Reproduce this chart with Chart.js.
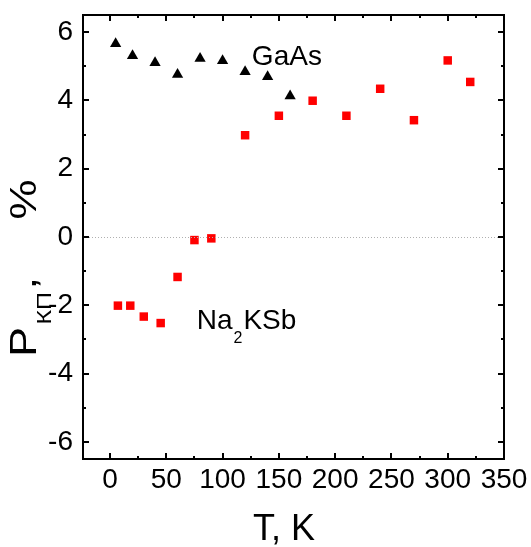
<!DOCTYPE html>
<html>
<head>
<meta charset="UTF-8" />
<title>P vs T</title>
<style>
  html, body { margin: 0; padding: 0; background: #fff; }
  #wrap { position: relative; width: 531px; height: 547px; }
</style>
</head>
<body>
<div id="wrap"><canvas id="polChart" width="531" height="547"></canvas></div>
<script src="https://cdn.jsdelivr.net/npm/chart.js"></script>
<script>
// temperature, K
const tempGaAs = [5, 20, 40, 60, 80, 100, 120, 140, 160];
// polarization, %
const polGaAs = [5.66, 5.31, 5.10, 4.76, 5.23, 5.16, 4.84, 4.69, 4.13];

const tempNaKSb = [7, 18, 30, 45, 60, 75, 90, 120, 150, 180, 210, 240, 270, 300, 320];
const polNaKSb = [-2.01, -2.01, -2.33, -2.52, -1.17, -0.09, -0.04, 2.98, 3.55, 3.99, 3.55, 4.34, 3.42, 5.17, 4.54];

const xMajor = [0, 50, 100, 150, 200, 250, 300, 350];
const xMinor = [25, 75, 125, 175, 225, 275, 325];
const yMajor = [-6, -4, -2, 0, 2, 4, 6];
const yMinor = [-5, -3, -1, 1, 3, 5];

const FONT = '"Liberation Sans", Arial, sans-serif';

function pts(xs, ys) {
  return xs.map((x, i) => ({ x: x, y: ys[i] }));
}

// frame, inward ticks, zero line and the text labels
const framePlugin = {
  id: 'frame',
  afterDatasetsDraw(chart) {
    const { ctx, chartArea: a, scales: { x, y } } = chart;
    ctx.save();

    // dotted zero line
    const y0 = y.getPixelForValue(0);
    ctx.strokeStyle = '#b0b0b0';
    ctx.lineWidth = 1;
    ctx.setLineDash([1, 2]);
    ctx.beginPath();
    ctx.moveTo(a.left, y0 + 0.5);
    ctx.lineTo(a.right, y0 + 0.5);
    ctx.stroke();
    ctx.setLineDash([]);

    ctx.strokeStyle = '#000';
    ctx.lineWidth = 2;
    ctx.strokeRect(a.left, a.top, a.right - a.left, a.bottom - a.top);

    function xTick(v, len) {
      const px = Math.round(x.getPixelForValue(v));
      ctx.moveTo(px, a.bottom); ctx.lineTo(px, a.bottom - len);
      ctx.moveTo(px, a.top); ctx.lineTo(px, a.top + len);
    }
    function yTick(v, len) {
      const py = Math.round(y.getPixelForValue(v));
      ctx.moveTo(a.left, py); ctx.lineTo(a.left + len, py);
      ctx.moveTo(a.right, py); ctx.lineTo(a.right - len, py);
    }
    ctx.beginPath();
    xMajor.forEach(v => xTick(v, 6));
    xMinor.forEach(v => xTick(v, 3));
    yMajor.forEach(v => yTick(v, 6));
    yMinor.forEach(v => yTick(v, 3));
    ctx.stroke();

    ctx.fillStyle = '#000';
    ctx.textBaseline = 'alphabetic';
    ctx.textAlign = 'left';

    // series labels
    ctx.font = '28px ' + FONT;
    ctx.fillText('GaAs', x.getPixelForValue(126), y.getPixelForValue(5.05));

    let lx = x.getPixelForValue(77);
    const ly = y.getPixelForValue(-2.7);
    ctx.fillText('Na', lx, ly);
    lx += ctx.measureText('Na').width + 1;
    ctx.font = '16px ' + FONT;
    ctx.fillText('2', lx, ly + 14);
    lx += ctx.measureText('2').width + 1;
    ctx.font = '28px ' + FONT;
    ctx.fillText('KSb', lx, ly);

    // x axis title
    ctx.font = '36px ' + FONT;
    ctx.textAlign = 'center';
    ctx.fillText('T, K', 284, 540);

    // y axis title, written bottom to top, slightly stretched along its length
    ctx.translate(36, 357);
    ctx.rotate(-Math.PI / 2);
    ctx.scale(1.25, 1);
    ctx.textAlign = 'left';
    let tx = 0;
    ctx.font = '36px ' + FONT;
    ctx.fillText('P', tx, 0);
    tx += ctx.measureText('P').width + 2;
    ctx.font = '20px ' + FONT;
    ctx.fillText('КП', tx, 15);
    tx += ctx.measureText('КП').width + 2;
    ctx.font = '36px ' + FONT;
    ctx.fillText(',', tx, 0);
    ctx.fillText('%', 110, 0);

    ctx.restore();
  }
};

new Chart(document.getElementById('polChart'), {
  type: 'scatter',
  data: {
    datasets: [
      {
        label: 'GaAs',
        data: pts(tempGaAs, polGaAs),
        pointStyle: 'triangle',
        pointRadius: 6.5,
        pointBorderWidth: 0,
        backgroundColor: '#000',
        borderColor: '#000'
      },
      {
        label: 'Na2KSb',
        data: pts(tempNaKSb, polNaKSb),
        pointStyle: 'rect',
        pointRadius: 6,
        pointBorderWidth: 0,
        backgroundColor: '#ff0000',
        borderColor: '#ff0000'
      }
    ]
  },
  options: {
    responsive: false,
    animation: false,
    layout: { padding: { top: 15, right: 27, left: 0, bottom: 0 } },
    plugins: {
      legend: { display: false },
      tooltip: { enabled: false }
    },
    scales: {
      x: {
        type: 'linear',
        min: -24,
        max: 350,
        afterBuildTicks(scale) {
          scale.ticks = xMajor.map(v => ({ value: v }));
        },
        afterFit(scale) {
          scale.height = 88;
          scale.paddingLeft = 0;
          scale.paddingRight = 0;
        },
        grid: { display: false, drawTicks: false },
        border: { display: false },
        ticks: {
          color: '#000',
          padding: 4,
          maxRotation: 0,
          font: { family: FONT, size: 28 }
        }
      },
      y: {
        type: 'linear',
        min: -6.5,
        max: 6.5,
        afterBuildTicks(scale) {
          scale.ticks = yMajor.map(v => ({ value: v }));
        },
        afterFit(scale) {
          scale.width = 83;
          scale.paddingTop = 0;
          scale.paddingBottom = 0;
        },
        grid: { display: false, drawTicks: false },
        border: { display: false },
        ticks: {
          color: '#000',
          padding: 10,
          font: { family: FONT, size: 28 }
        }
      }
    }
  },
  plugins: [framePlugin]
});
</script>
</body>
</html>
